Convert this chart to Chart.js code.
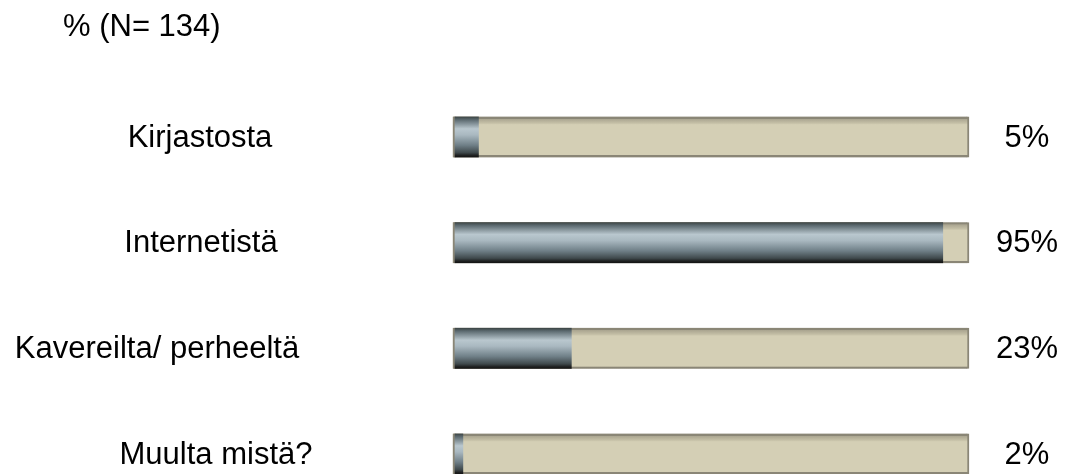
<!DOCTYPE html>
<html lang="fi">
<head>
<meta charset="UTF-8">
<title>% (N= 134)</title>
<script src="https://cdn.jsdelivr.net/npm/chart.js"></script>
<style>
  body { margin: 0; background: #fff; }
  canvas { display: block; }
</style>
</head>
<body>
<canvas id="chart" width="1072" height="474"></canvas>
<script>
  // data
  const title = '% (N= 134)';
  const categories = ['Kirjastosta', 'Internetistä', 'Kavereilta/ perheeltä', 'Muulta mistä?'];
  const values = [5, 95, 23, 2];
  const track = [100, 100, 100, 100];

  const FONT = '31px "Liberation Sans", Arial, sans-serif';
  // label centres (x) per row, as in the original layout
  const labelCenters = [200, 201, 157, 216];

  function barGradient(ctx, stops) {
    const chart = ctx.chart;
    const y = chart.scales.y;
    if (!y || !chart.chartArea) return stops[0][1];
    const c = y.getPixelForValue(ctx.dataIndex);
    const g = chart.ctx.createLinearGradient(0, c - 20.5, 0, c + 20.5);
    stops.forEach(s => g.addColorStop(s[0], s[1]));
    return g;
  }

  const steel = [
    [0, '#3a4241'], [0.08, '#5c6a70'], [0.3, '#b9c7ce'], [0.45, '#a9b8c0'],
    [0.7, '#6f7f87'], [0.88, '#3f494c'], [0.95, '#1e2020'], [1, '#121212']
  ];
  const beige = [
    [0, '#8a8676'], [0.05, '#8a8676'], [0.06, '#aaa590'], [0.16, '#c4bfa6'],
    [0.2, '#d4cfb5'], [0.94, '#d4cfb5'], [0.95, '#8a8676'], [1, '#8a8676']
  ];

  const textPlugin = {
    id: 'texts',
    afterDatasetsDraw(chart) {
      const c = chart.ctx;
      const y = chart.scales.y;
      c.save();
      c.font = FONT;
      c.fillStyle = '#000';
      c.textBaseline = 'middle';
      c.textAlign = 'left';
      c.fillText(title, 63, 27);
      c.textAlign = 'center';
      categories.forEach((cat, i) => {
        const py = y.getPixelForValue(i) + 1;
        c.fillText(cat, labelCenters[i], py);
        c.fillText(values[i] + '%', 1027, py);
      });
      c.restore();
    }
  };

  new Chart(document.getElementById('chart'), {
    type: 'bar',
    data: {
      labels: categories,
      datasets: [
        {
          data: values,
          grouped: false,
          barThickness: 41,
          clip: false,
          backgroundColor: ctx => barGradient(ctx, steel),
          borderColor: '#8a8676',
          borderWidth: { left: 2, top: 0, right: 0, bottom: 0 },
          borderSkipped: false
        },
        {
          data: track,
          grouped: false,
          barThickness: 41,
          clip: false,
          backgroundColor: ctx => barGradient(ctx, beige),
          borderColor: '#8a8676',
          borderWidth: { left: 2, right: 2, top: 0, bottom: 0 },
          borderSkipped: false
        }
      ]
    },
    options: {
      indexAxis: 'y',
      responsive: false,
      animation: false,
      layout: { padding: { left: 453, right: 103, top: 137, bottom: 20 } },
      scales: {
        x: { display: false, min: 0, max: 100 },
        y: { display: false, offset: false }
      },
      plugins: {
        legend: { display: false },
        tooltip: { enabled: false }
      }
    },
    plugins: [textPlugin]
  });
</script>
</body>
</html>
